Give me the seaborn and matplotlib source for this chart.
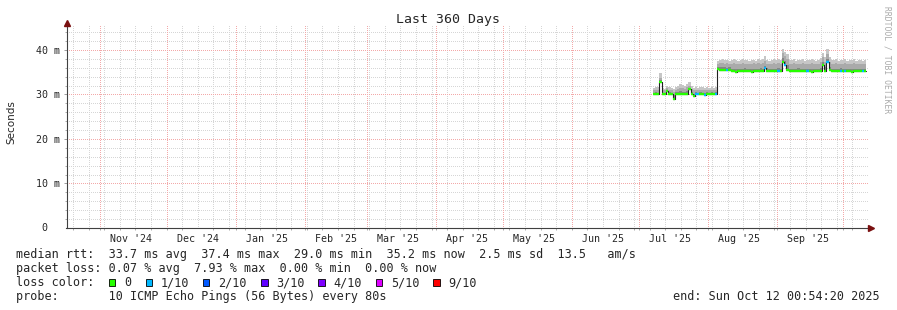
import numpy as np
import pandas as pd
import matplotlib
matplotlib.use("Agg")
import matplotlib.pyplot as plt
import matplotlib.dates as mdates
import matplotlib.transforms as mtrans
from matplotlib.patches import Rectangle
from matplotlib.ticker import FixedLocator, NullFormatter
import seaborn as sns

# ---------------- data ----------------
step_start = "2025-07-07 08:00"
range_start = "2024-10-17 00:54:20"
range_end = "2025-10-12 00:54:20"

median_ms = [
    30.0, 30.1, 30.0, 32.8, 30.0, 30.0, 30.8, 30.0, 30.0, 29.0,
    30.0, 30.0, 30.1, 30.0, 30.0, 30.0, 31.2, 30.0, 29.6, 30.0,
    30.0, 30.0, 30.0, 29.9, 30.0, 30.0, 30.0, 30.0, 30.0,
    35.7, 35.6, 35.6, 35.6, 35.5, 35.6, 35.2, 35.2, 35.1, 35.2, 35.2,
    35.2, 35.3, 35.2, 35.2, 35.1, 35.2, 35.2, 35.2, 35.3, 35.2,
    35.9, 35.3, 35.2, 35.2, 35.2, 35.2, 35.3, 35.2, 37.4, 36.6,
    35.6, 35.2, 35.2, 35.2, 35.2, 35.3, 35.2, 35.2, 35.2, 35.2,
    35.2, 35.1, 35.2, 35.2, 35.2, 35.2, 36.7, 35.3, 37.2, 35.4,
    35.2, 35.2, 35.2, 35.2, 35.3, 35.2, 35.2, 35.2, 35.2, 35.1,
    35.2, 35.2, 35.2, 35.2, 35.2, 35.2,
]

loss_tenths = [
    0, 0, 0, 0, 0, 0, 0, 0, 0, 0,
    0, 0, 0, 0, 0, 0, 0, 0, 0, 1,
    1, 0, 0, 1, 0, 0, 0, 0, 1, 0,
    0, 0, 0, 1, 0, 0, 0, 0, 0, 0,
    0, 0, 0, 0, 0, 0, 0, 0, 0, 0,
    1, 0, 0, 0, 0, 0, 1, 0, 0, 1,
    0, 0, 0, 0, 0, 0, 0, 0, 0, 1,
    0, 0, 0, 0, 0, 0, 0, 0, 1, 0,
    0, 0, 0, 0, 1, 0, 1, 0, 0, 0,
    0, 0, 0, 0, 1, 0,
]

smoke_outer = [
    31.4, 31.7, 31.6, 34.8, 31.5, 31.3, 32.0, 31.6, 31.4, 31.3,
    31.6, 32.0, 32.3, 32.1, 32.0, 32.4, 32.7, 32.0, 31.5, 31.6,
    31.4, 31.7, 31.6, 31.5, 31.6, 31.4, 31.7, 31.5, 31.6,
    37.6, 37.7, 37.9, 37.7, 37.8, 37.6, 37.7, 37.9, 37.8, 37.6, 37.7,
    37.9, 37.7, 37.8, 37.6, 37.7, 37.8, 37.6, 37.9, 37.7, 38.0,
    38.6, 37.8, 37.6, 37.7, 37.9, 37.7, 38.0, 37.8, 40.2, 39.6,
    39.0, 37.8, 37.7, 37.9, 37.6, 37.8, 37.7, 37.9, 37.6, 37.8,
    37.7, 37.9, 37.8, 37.6, 37.7, 38.1, 39.4, 38.4, 40.2, 38.3,
    37.8, 37.7, 37.9, 37.6, 37.8, 37.7, 37.9, 37.6, 37.8, 37.7,
    37.9, 37.6, 37.8, 37.7, 37.6, 37.7,
]

smoke_mid = [
    30.9, 31.1, 31.0, 33.6, 31.0, 30.9, 31.4, 31.0, 30.9, 30.6,
    31.0, 31.3, 31.5, 31.4, 31.2, 31.6, 31.9, 31.2, 30.9, 31.0,
    30.9, 31.1, 31.0, 30.9, 31.0, 30.9, 31.1, 31.0, 31.0,
    36.9, 37.0, 37.1, 36.9, 37.0, 36.9, 36.8, 37.0, 36.9, 36.8, 36.9,
    37.0, 36.9, 36.9, 36.8, 36.9, 37.0, 36.8, 37.0, 36.9, 37.1,
    37.5, 36.9, 36.8, 36.9, 37.0, 36.9, 37.1, 36.9, 39.2, 38.6,
    37.9, 36.9, 36.8, 37.0, 36.8, 36.9, 36.9, 37.0, 36.8, 36.9,
    36.9, 37.0, 36.9, 36.8, 36.9, 37.2, 38.3, 37.4, 39.0, 37.3,
    36.9, 36.9, 37.0, 36.8, 36.9, 36.9, 37.0, 36.8, 36.9, 36.9,
    37.0, 36.8, 36.9, 36.9, 36.8, 36.9,
]

smoke_inner = [
    30.4, 30.5, 30.4, 33.2, 30.4, 30.4, 31.0, 30.5, 30.4, 29.8,
    30.5, 30.6, 30.7, 30.6, 30.5, 30.7, 31.5, 30.6, 30.2, 30.5,
    30.4, 30.5, 30.4, 30.4, 30.5, 30.4, 30.5, 30.4, 30.5,
    36.2, 36.1, 36.2, 36.1, 36.0, 36.1, 35.8, 35.8, 35.7, 35.8, 35.8,
    35.8, 35.9, 35.8, 35.8, 35.7, 35.8, 35.8, 35.8, 35.9, 35.8,
    36.5, 35.9, 35.8, 35.8, 35.8, 35.8, 35.9, 35.8, 38.2, 37.6,
    36.6, 35.8, 35.8, 35.8, 35.8, 35.9, 35.8, 35.8, 35.8, 35.8,
    35.8, 35.7, 35.8, 35.8, 35.8, 36.0, 37.4, 36.2, 38.0, 36.1,
    35.8, 35.8, 35.8, 35.8, 35.9, 35.8, 35.8, 35.8, 35.8, 35.7,
    35.8, 35.8, 35.8, 35.8, 35.8, 35.8,
]

month_labels = ["Nov '24", "Dec '24", "Jan '25", "Feb '25", "Mar '25", "Apr '25",
                "May '25", "Jun '25", "Jul '25", "Aug '25", "Sep '25"]
month_label_dates = ["2024-11-15", "2024-12-15", "2025-01-15", "2025-02-15",
                     "2025-03-15", "2025-04-15", "2025-05-15", "2025-06-15",
                     "2025-07-15", "2025-08-15", "2025-09-15"]
y_ticks = [10, 20, 30, 40]
y_tick_labels = ["10 m", "20 m", "30 m", "40 m"]

loss_legend_labels = ["0", "1/10", "2/10", "3/10", "4/10", "5/10", "9/10"]
loss_legend_colors = ["#26ff00", "#00b8ff", "#0059ff", "#5e00ff", "#7e00ff", "#dd00ff", "#ff0000"]

stats_line = "median rtt:  33.7 ms avg  37.4 ms max  29.0 ms min  35.2 ms now  2.5 ms sd  13.5   am/s"
loss_line = "packet loss: 0.07 % avg  7.93 % max  0.00 % min  0.00 % now"
probe_line = "probe:       10 ICMP Echo Pings (56 Bytes) every 80s"
end_line = "end: Sun Oct 12 00:54:20 2025"

n = len(median_ms)
assert len(loss_tenths) == n and len(smoke_outer) == n and len(smoke_mid) == n and len(smoke_inner) == n

# ---------------- figure ----------------
sns.set_style("white")
MONO = ["DejaVu Sans Mono", "DejaVu Sans"]
plt.rcParams["font.family"] = MONO

W, H = 897, 310
fig = plt.figure(figsize=(W / 100, H / 100), dpi=100, facecolor="white")
ax = fig.add_axes([66.5 / W, (H - 228) / H, (868 - 66.5) / W, (228 - 25) / H])
ax.set_facecolor("white")

edges = pd.date_range(step_start, periods=n + 1, freq="D")
edges_num = mdates.date2num(edges.to_pydatetime())
med = np.array(median_ms)
med_ext = np.append(med, med[-1])

# grid (dotted, crisp)
dot = (0, (1, 1.4))
weekly = pd.date_range("2024-10-20", range_end, freq="7D")
monthly = pd.date_range("2024-11-01", range_end, freq="MS")
gkw = dict(lw=0.72, ls=dot, antialiased=False)
for d in weekly:
    ax.axvline(d, color="#d6d6d6", zorder=0.5, **gkw)
for v in np.arange(2, 46, 2):
    if v % 10:
        ax.axhline(v, color="#d6d6d6", zorder=0.5, **gkw)
for d in monthly:
    ax.axvline(d, color="#f3a9a9", zorder=0.6, **gkw)
for v in y_ticks:
    ax.axhline(v, color="#f3a9a9", zorder=0.6, **gkw)

# smoke
for vals, col in [(smoke_outer, "#c6c6c6"), (smoke_mid, "#aaaaaa"), (smoke_inner, "#858585")]:
    ax.fill_between(edges_num, med_ext, np.append(vals, vals[-1]), step="post",
                    color=col, lw=0, zorder=1)

# dark median line (seaborn)
df = pd.DataFrame({"t": edges, "ms": med_ext})
sns.lineplot(data=df, x="t", y="ms", drawstyle="steps-post", color="#202020",
             lw=0.8, estimator=None, ax=ax, zorder=3)

# loss-coloured median bars
loss = np.array(loss_tenths)
for c in sorted(set(loss_tenths)):
    m = loss == c
    ax.hlines(med[m], edges_num[:-1][m], edges_num[1:][m],
              colors=loss_legend_colors[c], lw=1.7, zorder=4, capstyle="butt")

ax.set_xlim(mdates.date2num(pd.Timestamp(range_start)), mdates.date2num(pd.Timestamp(range_end)))
ax.set_ylim(0, 45.6)
ax.set_xlabel("")
ax.set_ylabel("")

# ticks
ax.xaxis.set_major_locator(FixedLocator(mdates.date2num(pd.to_datetime(month_label_dates))))
ax.set_xticklabels(month_labels)
ax.xaxis.set_minor_locator(FixedLocator(mdates.date2num(weekly.union(monthly))))
ax.xaxis.set_minor_formatter(NullFormatter())
ax.tick_params(axis="x", which="major", length=0, pad=4.5, labelsize=7.2)
ax.tick_params(axis="x", which="minor", length=1.5, width=0.5, color="#888888", direction="out")
ax.set_yticks(y_ticks)
ax.set_yticklabels(y_tick_labels)
ax.yaxis.set_minor_locator(FixedLocator(np.arange(2, 46, 2)))
ax.tick_params(axis="y", which="major", length=2.2, width=0.5, color="#777777", pad=2.4, labelsize=7.2)
ax.tick_params(axis="y", which="minor", length=1.5, width=0.5, color="#888888")
ax.tick_params(bottom=True, left=True, which="both")
ax.annotate("0", xy=(0, 0), xycoords="axes fraction", xytext=(-16, 0),
            textcoords="offset points", ha="center", va="center", fontsize=7.2)

for s in ["top", "right"]:
    ax.spines[s].set_visible(False)
for s in ["left", "bottom"]:
    ax.spines[s].set_color("#404040")
    ax.spines[s].set_linewidth(0.8)

# axis arrows
ax.plot([1.0], [0.0], marker=">", ms=4, color="#7a1010", clip_on=False, zorder=6,
        transform=mtrans.offset_copy(ax.transAxes, fig, x=3, y=0, units="dots"))
ax.plot([0.0], [1.0], marker="^", ms=4, color="#7a1010", clip_on=False, zorder=6,
        transform=mtrans.offset_copy(ax.transAxes, fig, x=0, y=2, units="dots"))

# texts
fig.text(447.5 / W, 1 - 19 / H, "Last 360 Days", ha="center", va="center", fontsize=9.5)
fig.text(11 / W, 1 - 122 / H, "Seconds", rotation=90, ha="center", va="center",
         fontsize=7.5, family=["DejaVu Sans"])
fig.text(887 / W, 1 - 60 / H, "RRDTOOL / TOBI OETIKER", rotation=270, ha="center",
         va="center", fontsize=5.8, color="#aaaaaa")

LS = 8.5
rows_y = [254.3, 268.3, 282.7, 296.7]
fig.text(16 / W, 1 - rows_y[0] / H, stats_line, ha="left", va="center", fontsize=LS)
fig.text(16 / W, 1 - rows_y[1] / H, loss_line, ha="left", va="center", fontsize=LS)
fig.text(16 / W, 1 - rows_y[2] / H, "loss color:", ha="left", va="center", fontsize=LS)
fig.text(16 / W, 1 - rows_y[3] / H, probe_line, ha="left", va="center", fontsize=LS)
fig.text(880 / W, 1 - rows_y[3] / H, end_line, ha="right", va="center", fontsize=LS)

box_x = [108.7, 145.7, 202.7, 261.0, 318.0, 375.7, 433.3]
for bx, lab, col in zip(box_x, loss_legend_labels, loss_legend_colors):
    fig.add_artist(Rectangle((bx / W, (H - 286.0) / H), 6.6 / W, 6.6 / H,
                             transform=fig.transFigure, facecolor=col,
                             edgecolor="#000000", lw=0.6))
    fig.text((bx + 15.4) / W, 1 - rows_y[2] / H, lab, ha="left", va="center", fontsize=LS)

fig.savefig("out.png", dpi=100, facecolor="white")
